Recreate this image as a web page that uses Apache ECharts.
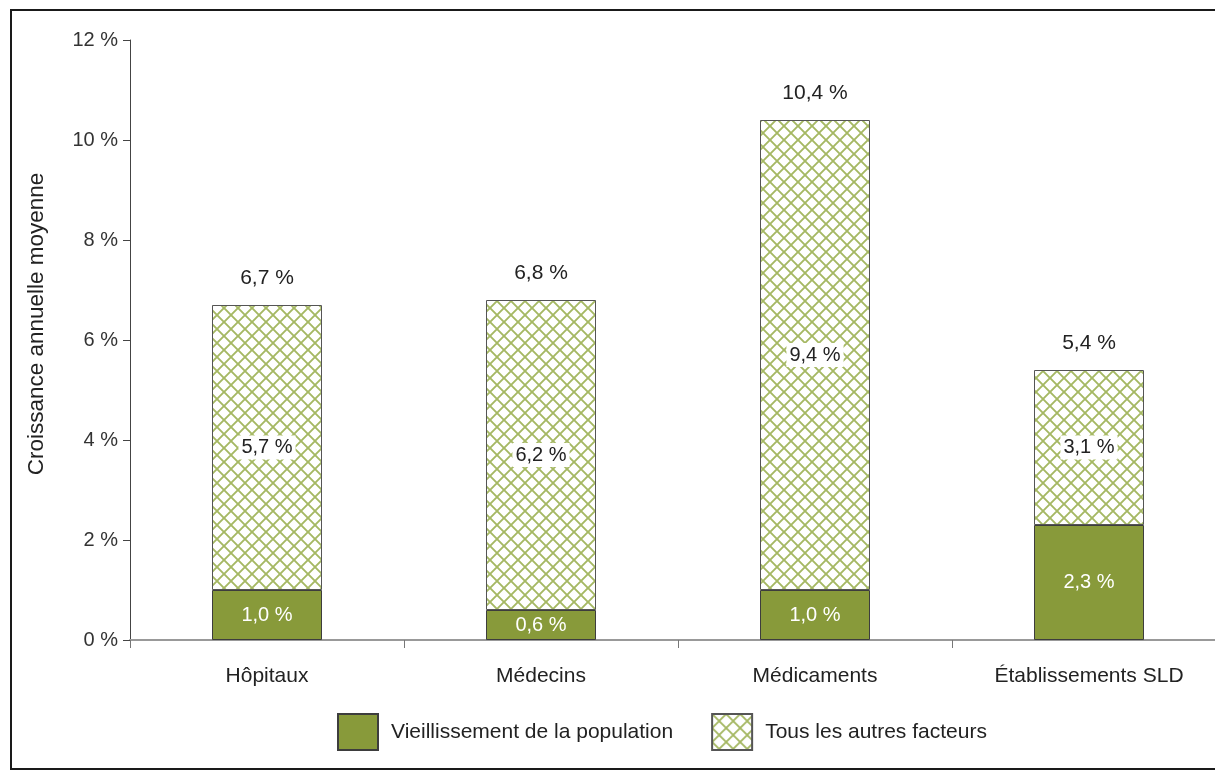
<!DOCTYPE html>
<html>
<head>
<meta charset="utf-8">
<script src="https://cdn.jsdelivr.net/npm/echarts@6/dist/echarts.min.js"></script>
<style>
  html, body { margin: 0; padding: 0; background: #fff; }
  #chart { width: 1215px; height: 771px; }
</style>
</head>
<body>
<div id="chart"></div>
<script>
// Catégories de dépenses et contributions à la croissance annuelle moyenne (%)
const categories = ['Hôpitaux', 'Médecins', 'Médicaments', 'Établissements SLD'];
const vieillissement = [1.0, 0.6, 1.0, 2.3];
const autresFacteurs = [5.7, 6.2, 9.4, 3.1];
const yTicks = [0, 2, 4, 6, 8, 10, 12];
const seriesNames = ['Vieillissement de la population', 'Tous les autres facteurs'];

const totals = categories.map((_, i) => +(vieillissement[i] + autresFacteurs[i]).toFixed(1));
const fmt = v => v.toFixed(1).replace('.', ',') + ' %';

const FONT = '"Liberation Sans", Arial, sans-serif';

// Motif quadrillé en diagonale pour la série « autres facteurs »
function makeHatch() {
  const s = 14;
  const c = document.createElement('canvas');
  c.width = s; c.height = s;
  const ctx = c.getContext('2d');
  ctx.fillStyle = '#ffffff';
  ctx.fillRect(0, 0, s, s);
  ctx.strokeStyle = '#a5b863';
  ctx.lineWidth = 1.9;
  for (const k of [-s, 0, s]) {
    ctx.beginPath();
    ctx.moveTo(k, 0); ctx.lineTo(k + s, s);
    ctx.moveTo(k + s, 0); ctx.lineTo(k, s);
    ctx.stroke();
  }
  return c;
}
const hatch = { image: makeHatch(), repeat: 'repeat' };

const chart = echarts.init(document.getElementById('chart'), null, { renderer: 'canvas' });

chart.setOption({
  backgroundColor: '#ffffff',
  animation: false,
  textStyle: { fontFamily: FONT },
  graphic: [{
    type: 'rect',
    shape: { x: 11, y: 10, width: 1230, height: 759 },
    style: { fill: 'none', stroke: '#1a1a1a', lineWidth: 2 },
    silent: true,
    z: -1
  }],
  grid: {
    left: 130, top: 40, width: 1096, height: 600,
    containLabel: false,
    outerBoundsMode: 'none'
  },
  legend: {
    left: 337,
    top: 713,
    padding: 0,
    itemWidth: 40,
    itemHeight: 36,
    itemGap: 38,
    icon: 'rect',
    textStyle: { fontFamily: FONT, fontSize: 21, color: '#222', padding: [0, 0, 0, 8] },
    data: seriesNames
  },
  xAxis: {
    type: 'category',
    data: categories,
    axisLine: { show: true, lineStyle: { color: '#999', width: 2 } },
    axisTick: { show: true, length: 8, lineStyle: { color: '#777', width: 1 } },
    axisLabel: { margin: 26, fontFamily: FONT, fontSize: 21, color: '#222', hideOverlap: false }
  },
  yAxis: {
    type: 'value',
    min: yTicks[0],
    max: yTicks[yTicks.length - 1],
    interval: 2,
    name: 'Croissance annuelle moyenne',
    nameLocation: 'middle',
    nameGap: 82,
    nameRotate: 90,
    nameTextStyle: { fontFamily: FONT, fontSize: 22.5, color: '#222', padding: [0, 0, 0, 32] },
    axisLine: { show: true, lineStyle: { color: '#444', width: 1 } },
    axisTick: { show: true, length: 7, lineStyle: { color: '#444' } },
    splitLine: { show: false },
    axisLabel: { margin: 12, fontFamily: FONT, fontSize: 20, color: '#333', formatter: v => v + ' %' }
  },
  series: [
    {
      name: seriesNames[0],
      type: 'bar',
      stack: 'total',
      barWidth: 110,
      data: vieillissement,
      itemStyle: { color: '#889a3a', borderColor: '#3d3d3d', borderWidth: 1 },
      label: {
        show: true,
        position: 'inside',
        fontFamily: FONT,
        fontSize: 20,
        color: '#ffffff',
        formatter: p => fmt(p.value)
      }
    },
    {
      name: seriesNames[1],
      type: 'bar',
      stack: 'total',
      barWidth: 110,
      data: autresFacteurs,
      itemStyle: { color: hatch, borderColor: '#555', borderWidth: 1 },
      label: {
        show: true,
        position: 'inside',
        fontFamily: FONT,
        fontSize: 20,
        color: '#222',
        backgroundColor: '#ffffff',
        padding: [2, 3],
        formatter: p => fmt(p.value)
      }
    },
    {
      // Étiquettes des totaux au-dessus de chaque pile
      name: 'total',
      type: 'bar',
      stack: 'total',
      barWidth: 110,
      data: categories.map(() => 0),
      itemStyle: { color: 'transparent', borderWidth: 0 },
      tooltip: { show: false },
      label: {
        show: true,
        position: 'top',
        distance: 16,
        fontFamily: FONT,
        fontSize: 21,
        color: '#222',
        formatter: p => fmt(totals[p.dataIndex])
      }
    }
  ]
});
</script>
</body>
</html>
